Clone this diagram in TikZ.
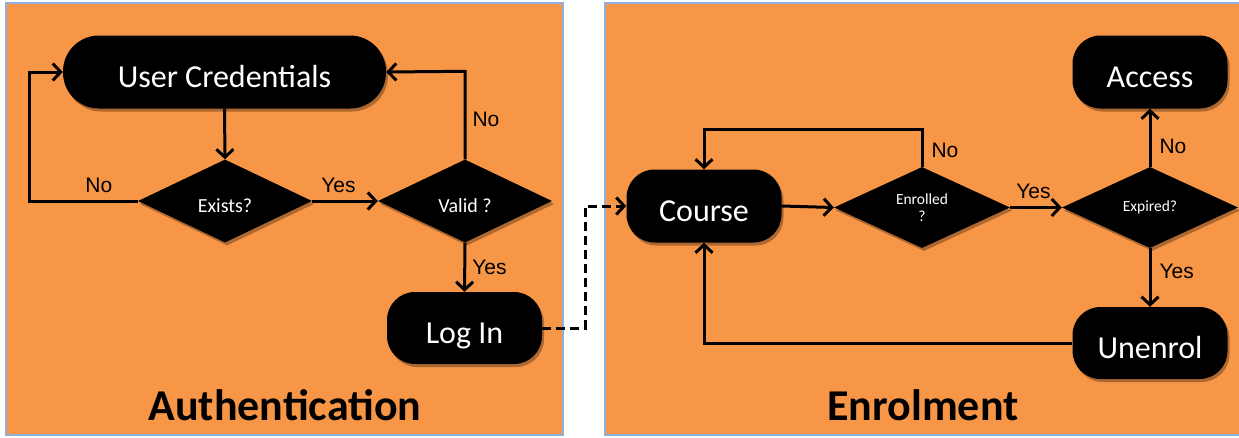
\documentclass[tikz,border=0pt]{standalone}
\usepackage{fontspec}
\setmainfont{Carlito}
\newfontfamily\labfont{Liberation Sans}
\usetikzlibrary{arrows.meta,shapes.geometric,shadows}
\definecolor{panelfill}{HTML}{F79646}
\definecolor{panelborder}{HTML}{8EB0DA}
\tikzset{
  panel/.style={fill=panelfill},
  panelline/.style={draw=panelborder, line width=1.2pt},
  term/.style={rectangle, fill=black, text=white, inner sep=0pt,
    font=\fontsize{32}{36}\selectfont, text height=30pt, text depth=0pt,
    drop shadow={shadow xshift=2pt, shadow yshift=-3pt, opacity=0.3, fill=black}},
  decision/.style={diamond, fill=black, text=white, inner sep=0pt, aspect=2,
    drop shadow={shadow xshift=2pt, shadow yshift=-3pt, opacity=0.3, fill=black}},
  conn/.style={line width=3pt, -{Straight Barb[length=8pt,width=17pt,line width=3pt]}},
  dashconn/.style={conn, dash pattern=on 9pt off 5pt},
  lbl/.style={font=\labfont\fontsize{21}{24}\selectfont, inner sep=2pt},
  title/.style={font=\bfseries\fontsize{44}{50}\selectfont, anchor=base}
}
\begin{document}
\begin{tikzpicture}[x=1pt,y=-1pt]
\useasboundingbox (0,0) rectangle (1239,437);
% panels
\fill[panel] (6,3) rectangle (563,435);
\draw[panelline] (6,3) rectangle (563,435);
\fill[panel] (605,3) rectangle (1242,435);
\draw[panelline] (1242,3) -- (605,3) -- (605,435) -- (1242,435);

% Authentication
\node[term, minimum width=323pt, minimum height=73pt, rounded corners=36pt] (uc) at (224.5,72) {User Credentials};
\node[decision, minimum width=174pt, minimum height=83pt, font=\fontsize{20}{23}\selectfont, text height=22pt, text depth=0pt] (ex) at (225,201) {Exists?};
\node[decision, minimum width=174pt, minimum height=83pt, font=\fontsize{20}{23}\selectfont, text height=22pt, text depth=0pt] (va) at (465,201) {Valid ?};
\node[term, minimum width=155pt, minimum height=72pt, rounded corners=28pt] (login) at (464.5,328) {Log In};

\draw[conn] (uc.south) -- (ex.north);
\draw[conn] (ex.west) -- node[lbl, pos=0.36, above=5pt] {No} ++(-108,0) |- (uc.west);
\draw[conn] (ex.east) -- node[lbl, pos=0.4, above=5pt] {Yes} (va.west);
\draw[conn] (va.north) -- node[lbl, pos=0.45, right=4pt] {No} ++(0,-88) -- (uc.east);
\draw[conn] (va.south) -- node[lbl, pos=0.5, right=4pt] {Yes} (login.north);
\node[title] (t1) at (285,420) {Authentication};

% Enrolment
\node[term, minimum width=155pt, minimum height=73pt, rounded corners=28pt] (course) at (704,206) {Course};
\node[decision, minimum width=176pt, minimum height=81pt, font=\fontsize{15.5}{17}\selectfont, align=center] (en) at (922,207.5) {Enrolled\\?};
\node[decision, minimum width=176pt, minimum height=81pt, font=\fontsize{15.5}{17}\selectfont] (exp) at (1150,207.5) {\raisebox{-4pt}{Expired?}};
\node[term, minimum width=155pt, minimum height=73pt, rounded corners=28pt] (acc) at (1150,72) {Access};
\node[term, minimum width=155pt, minimum height=72pt, rounded corners=28pt] (un) at (1150,343) {Unenrol};

\draw[dashconn] (login.east) -- ++(43,0) |- (course.west);
\draw[conn] (course.east) -- (en.west);
\draw[conn] (en.north) -- node[lbl, pos=0.45, right=6pt] {No} ++(0,-37) -| (course.north);
\draw[conn] (en.east) -- node[lbl, pos=0.45, above=5pt] {Yes} (exp.west);
\draw[conn] (exp.north) -- node[lbl, pos=0.35, right=6pt] {No} (acc.south);
\draw[conn] (exp.south) -- node[lbl, pos=0.4, right=6pt] {Yes} (un.north);
\draw[conn] (un.west) -| (course.south);
\node[title] (t2) at (923,420) {Enrolment};
\end{tikzpicture}
\end{document}
